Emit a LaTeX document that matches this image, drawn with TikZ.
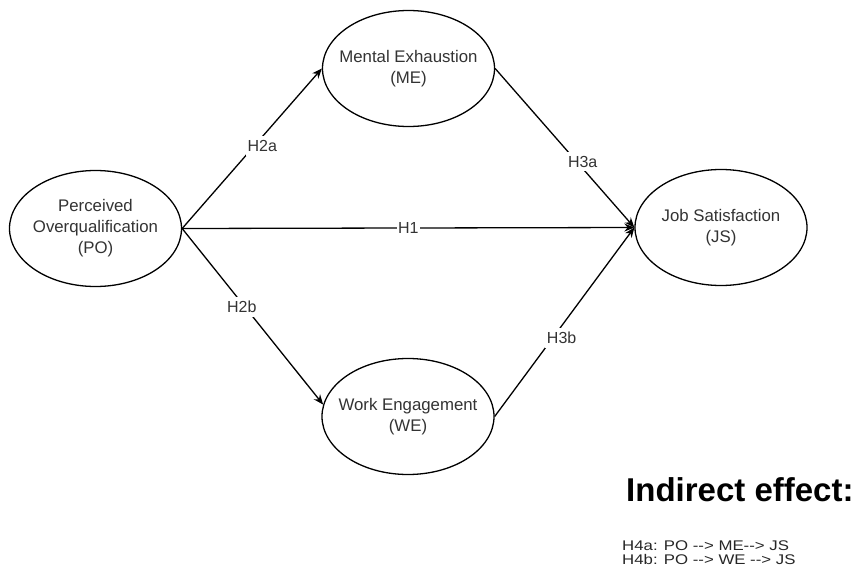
\documentclass[tikz,border=0pt]{standalone}
\usepackage{fontspec}
\setmainfont{Liberation Sans}
\usepackage{graphicx}
\usetikzlibrary{shapes.geometric,arrows.meta}
\begin{document}
\begin{tikzpicture}[x=1pt,y=-1pt,
  latent/.style={ellipse,draw,line width=1.3pt,minimum width=172pt,minimum height=116pt,inner sep=0pt,
    label={[align=center,font=\fontsize{16.8}{21}\selectfont,text=black!80]center:#1}},
  hyp/.style={line width=1.3pt,-{Stealth[length=10pt,width=8pt]}},
  lbl/.style={fill=white,inner xsep=1.5pt,inner ysep=4pt,font=\fontsize{16}{19}\selectfont,text=black!80},
  smalltxt/.style={anchor=base west,inner sep=0pt,font=\fontsize{14}{16}\selectfont,text=black!85}]
\useasboundingbox[fill=white] (0,0) rectangle (860,581);

\node[latent={Perceived\\Overqualification\\(PO)}] (PO) at (95.5,228.5) {};
\node[latent={Mental Exhaustion\\(ME)}] (ME) at (408.5,68.5) {};
\node[latent={Job Satisfaction\\(JS)}] (JS) at (721,227.5) {};
\node[latent={Work Engagement\\(WE)}] (WE) at (408,416.5) {};

\draw[hyp] (PO.east) -- node[lbl,pos=.516,xshift=8pt] {H2a} (ME.west);
\draw[hyp] (PO.east) -- node[lbl,pos=.5] {H1} (JS.west);
\draw[hyp] (PO.east) -- node[lbl,pos=.444,xshift=-3pt] {H2b} (WE.172);
\draw[hyp] (ME.east) -- node[lbl,pos=.586,xshift=6pt] {H3a} (JS.west);
\draw[hyp] (WE.east) -- node[lbl,pos=.415,xshift=9pt] {H3b} (JS.west);

\node[anchor=base west,inner sep=0pt,font=\bfseries\fontsize{33}{40}\selectfont] (ie) at (626,501.7) {Indirect effect:};
\node[smalltxt] (h4a) at (622,550.5) {\scalebox{1.2}[1]{H4a: PO -{}-> ME-{}-> JS}};
\node[smalltxt] (h4b) at (622,564) {\scalebox{1.2}[1]{H4b: PO -{}-> WE -{}-> JS}};
\end{tikzpicture}
\end{document}
